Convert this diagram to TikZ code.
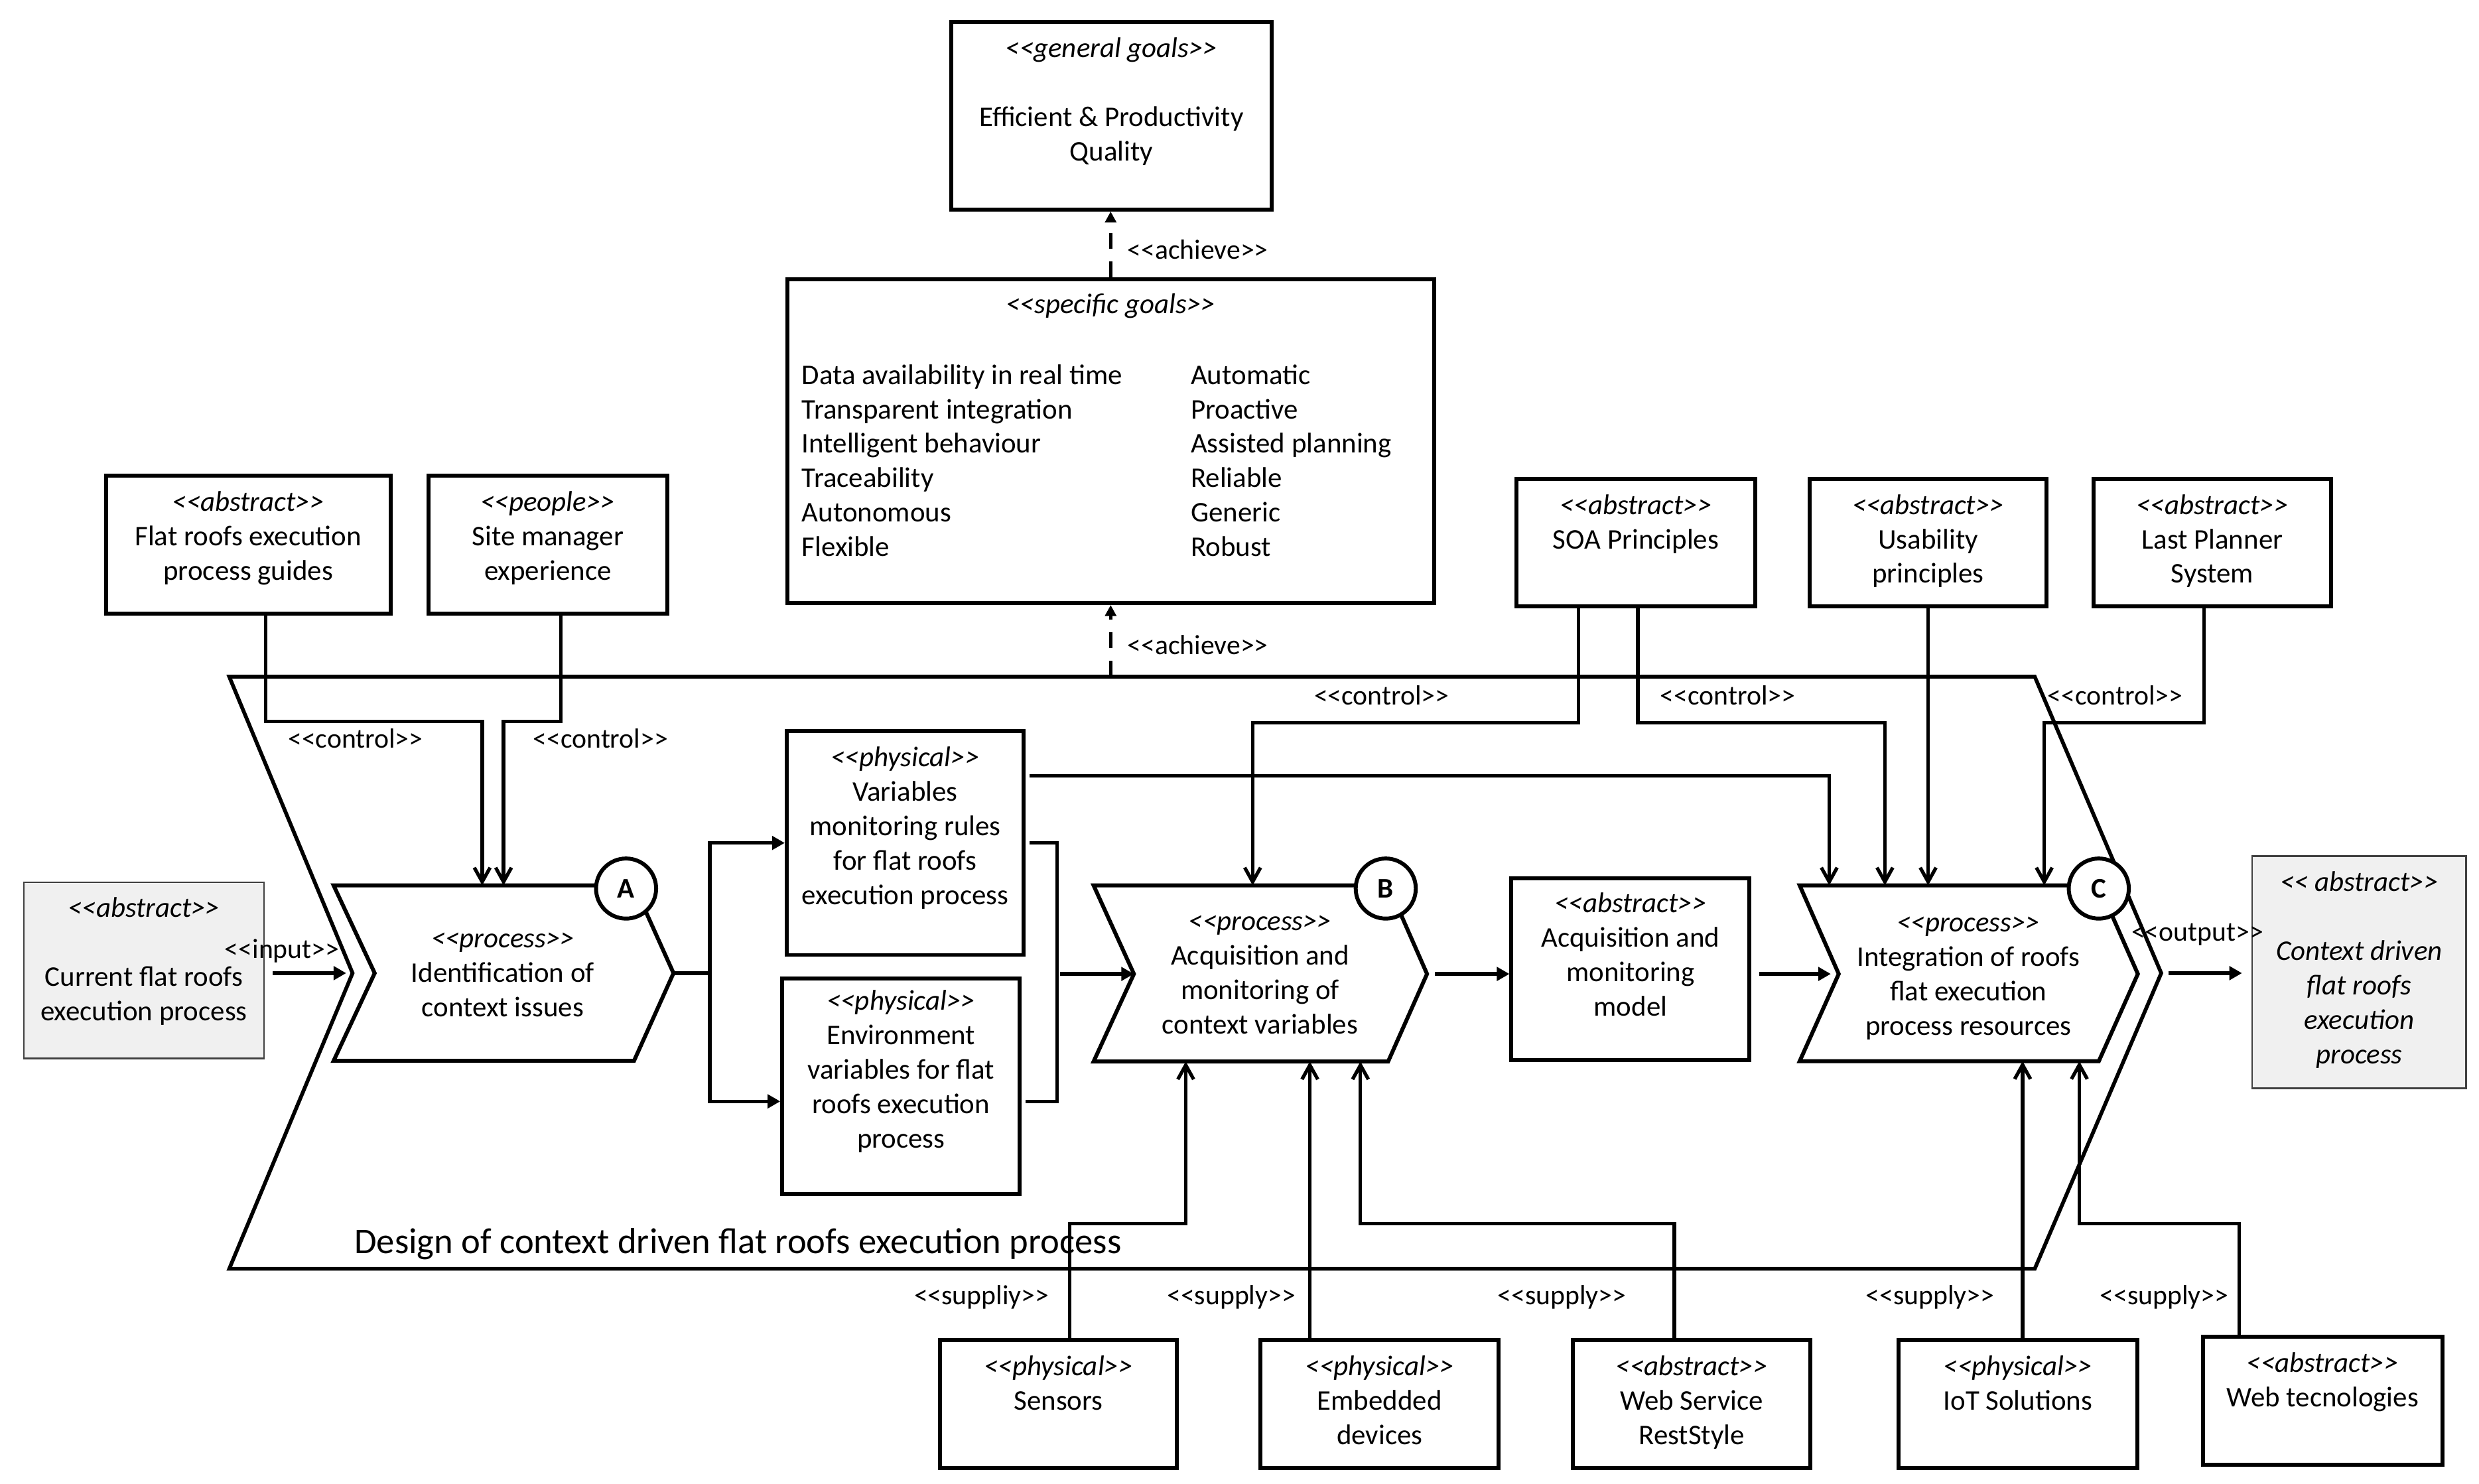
\documentclass[tikz,border=0pt]{standalone}
\usepackage{fontspec}
\setmainfont{Carlito}
\usetikzlibrary{arrows.meta,calc}
\newcommand\stx[1]{<{}<#1>{}>}
\newcommand\mkbox[6][box]{%
  \node[#1, minimum width={((#5)-(#3))*1pt}, minimum height={((#6)-(#4))*1pt}] (#2) at ({((#3)+(#5))/2},{((#4)+(#6))/2}) {};}
\begin{document}
\begin{tikzpicture}[x=1pt,y=-1pt,
  box/.style={draw, line width=2.5pt, inner sep=0pt},
  gbox/.style={draw=black!75, line width=1pt, fill=black!6, inner sep=0pt},
  txt/.style={inner sep=0pt, align=center, font=\fontsize{18}{21.8}\selectfont},
  lbl/.style={inner sep=0pt, anchor=base west, font=\fontsize{17.5}{21}\selectfont},
  ttl/.style={inner sep=0pt, anchor=base west, font=\fontsize{22.9}{27}\selectfont},
  ctrl/.style={line width=2.2pt, -{Straight Barb[length=9pt,width=10pt]}},
  flow/.style={line width=2.2pt, -{Triangle[length=8pt,width=8.5pt]}},
  plain/.style={line width=2.2pt},
  achv/.style={line width=2.2pt, dash pattern=on 10pt off 8pt, -{Triangle[length=7pt,width=7pt]}},
  chev/.style={line width=2.5pt, fill=white},
  circ/.style={circle, draw, line width=2.5pt, fill=white, minimum size=38pt, inner sep=0pt, font=\fontsize{18}{20}\selectfont\bfseries},
]
\useasboundingbox (0,0) rectangle (1568,938.6);

% ---------- big chevron (outer process) ----------
\coordinate (G-nw) at (145,428);
\coordinate (G-ne) at (1287,428);
\coordinate (G-tip) at (1367,615.5);
\coordinate (G-se) at (1287,802.5);
\coordinate (G-sw) at (145,802.5);
\coordinate (G-notch) at (223,615.5);
\draw[line width=2.4pt] (G-nw) -- (G-ne) -- (G-tip) -- (G-se) -- (G-sw) -- (G-notch) -- cycle;
\node[ttl] (title) at (224,793) {Design of context driven flat roofs execution process};

% ---------- process chevrons ----------
\coordinate (A-nw) at (211,560);
\coordinate (A-ne) at (401,560);
\coordinate (A-tip) at (426,615.5);
\coordinate (A-se) at (401,671);
\coordinate (A-sw) at (211,671);
\coordinate (A-notch) at (237,615.5);
\draw[chev] (A-nw) -- (A-ne) -- (A-tip) -- (A-se) -- (A-sw) -- (A-notch) -- cycle;
\node[txt] (A-text) at (318,617) {\strut{\itshape\stx{process}}\\Identification of\\context issues\strut};

\coordinate (B-nw) at (691.7,560);
\coordinate (B-ne) at (878,560);
\coordinate (B-tip) at (902.6,616);
\coordinate (B-se) at (878,671.4);
\coordinate (B-sw) at (691.7,671.4);
\coordinate (B-notch) at (717.2,616);
\draw[chev] (B-nw) -- (B-ne) -- (B-tip) -- (B-se) -- (B-sw) -- (B-notch) -- cycle;
\node[txt] (B-text) at (797,617) {\strut{\itshape\stx{process}}\\Acquisition and\\monitoring of\\context variables\strut};

\coordinate (C-nw) at (1138.3,560);
\coordinate (C-ne) at (1327.5,560);
\coordinate (C-tip) at (1352.2,616);
\coordinate (C-se) at (1327.5,671.2);
\coordinate (C-sw) at (1138.3,671.2);
\coordinate (C-notch) at (1163,616);
\draw[chev] (C-nw) -- (C-ne) -- (C-tip) -- (C-se) -- (C-sw) -- (C-notch) -- cycle;
\node[txt] (C-text) at (1245,617.5) {\strut{\itshape\stx{process}}\\Integration of roofs\\flat execution\\process resources\strut};

% entry points on chevrons
\coordinate (A-in1) at (305,560);
\coordinate (A-in2) at (318.5,560);
\coordinate (B-in1) at (792.3,560);
\coordinate (C-in1) at (1157,560);
\coordinate (C-in2) at (1192.2,560);
\coordinate (C-in4) at (1293,560);
\coordinate (B-s1) at (750,671.4);
\coordinate (B-s2) at (828.5,671.4);
\coordinate (B-s3) at (860.5,671.4);
\coordinate (C-s1) at (1279.3,671.2);
\coordinate (C-s2) at (1315.2,671.2);
\coordinate (bus) at (449,615.5);
\coordinate (brk) at (668.5,616);

% ---------- boxes ----------
\mkbox{gen}{601.5}{14}{804.5}{132.5}
\mkbox{spec}{498}{176.6}{907}{381.4}
\mkbox{flat}{67}{301}{247}{388}
\mkbox{site}{271}{301}{422}{388}
\mkbox{soa}{959}{303}{1110.4}{383.3}
\mkbox{usab}{1144.5}{303}{1294.6}{383.3}
\mkbox{lps}{1324.2}{303}{1474.4}{383.3}
\mkbox[gbox]{cur}{15}{558}{167}{669.5}
\mkbox{var}{497.6}{462.3}{647.5}{604}
\mkbox{env}{494.8}{618.8}{645}{755.4}
\mkbox{model}{956}{555.7}{1106.6}{670.6}
\mkbox[gbox]{out}{1424.6}{541.5}{1559.8}{688.4}
\mkbox{sens}{594.5}{847.7}{744.5}{928.7}
\mkbox{emb}{797.3}{847.7}{948}{928.7}
\mkbox{ws}{995}{847.7}{1145}{928.7}
\mkbox{iot}{1201}{847.7}{1351.7}{928.7}
\mkbox{wt}{1393.4}{845.6}{1544.7}{926.5}

% ---------- box texts ----------
\node[txt, anchor=north] (gen-t) at ($(gen.north)+(0,8)$) {\strut{\itshape\stx{general goals}}\\ \strut\\Efficient \& Productivity\\Quality};
\node[txt, anchor=north] (spec-t) at ($(spec.north)+(0,7.4)$) {\strut{\itshape\stx{specific goals}}};
\node[txt, align=left, anchor=north west] (spec-l) at (507,227.5) {\strut Data availability in real time\\Transparent integration\\Intelligent behaviour\\Traceability\\Autonomous\\Flexible};
\node[txt, align=left, anchor=north west] (spec-r) at (753,227.5) {\strut Automatic\\Proactive\\Assisted planning\\Reliable\\Generic\\Robust};
\node[txt, anchor=north] (flat-t) at ($(flat.north)+(0,8)$) {\strut{\itshape\stx{abstract}}\\Flat roofs execution\\process guides};
\node[txt, anchor=north] (site-t) at ($(site.north)+(0,8)$) {\strut{\itshape\stx{people}}\\Site manager\\experience};
\node[txt, anchor=north] (soa-t) at ($(soa.north)+(0,8)$) {\strut{\itshape\stx{abstract}}\\SOA Principles};
\node[txt, anchor=north] (usab-t) at ($(usab.north)+(0,8)$) {\strut{\itshape\stx{abstract}}\\Usability\\principles};
\node[txt, anchor=north] (lps-t) at ($(lps.north)+(0,8)$) {\strut{\itshape\stx{abstract}}\\Last Planner\\System};
\node[txt, anchor=north] (cur-t) at ($(cur.north)+(0,7)$) {\strut{\itshape\stx{abstract}}\\ \strut\\Current flat roofs\\execution process};
\node[txt, anchor=north] (var-t) at ($(var.north)+(0,8.5)$) {\strut{\itshape\stx{physical}}\\Variables\\monitoring rules\\for flat roofs\\execution process};
\node[txt, anchor=north] (env-t) at ($(env.north)+(0,6)$) {\strut{\itshape\stx{physical}}\\Environment\\variables for flat\\roofs execution\\process};
\node[txt, anchor=north] (model-t) at ($(model.north)+(0,7.2)$) {\strut{\itshape\stx{abstract}}\\Acquisition and\\monitoring\\model};
\node[txt, anchor=north, font=\fontsize{18}{21.8}\selectfont\itshape] (out-t) at ($(out.north)+(0,7.3)$) {\strut<{}< abstract>{}>\\ \strut\\Context driven\\flat roofs\\execution\\process};
\node[txt, anchor=north] (sens-t) at ($(sens.north)+(0,8)$) {\strut{\itshape\stx{physical}}\\Sensors};
\node[txt, anchor=north] (emb-t) at ($(emb.north)+(0,8)$) {\strut{\itshape\stx{physical}}\\Embedded\\devices};
\node[txt, anchor=north] (ws-t) at ($(ws.north)+(0,8)$) {\strut{\itshape\stx{abstract}}\\Web Service\\RestStyle};
\node[txt, anchor=north] (iot-t) at ($(iot.north)+(0,8)$) {\strut{\itshape\stx{physical}}\\IoT Solutions};
\node[txt, anchor=north] (wt-t) at ($(wt.north)+(0,8)$) {\strut{\itshape\stx{abstract}}\\Web tecnologies};

% ---------- achieve ----------
\draw[achv] (spec.north) -- (spec.north |- gen.south);
\draw[achv] (spec.south |- G-nw) -- (spec.south);
\node[lbl] (ach1) at (713,164) {\stx{achieve}};
\node[lbl] (ach2) at (713,414) {\stx{achieve}};

% ---------- controls ----------
\draw[ctrl] ([shift={(11,0)}]flat.south) -- ++(0,67) -| (A-in1);
\draw[ctrl] ([shift={(8.2,0)}]site.south) -- ++(0,67) -| (A-in2);
\draw[ctrl] ([shift={(-36.2,0)}]soa.south) -- ++(0,72.7) -| (B-in1);
\draw[ctrl] ([shift={(1.2,0)}]soa.south) -- ++(0,72.7) -| (C-in2);
\draw[ctrl] (usab.south) -- (usab.south |- C-nw);
\draw[ctrl] ([shift={(-5.1,0)}]lps.south) -- ++(0,72.7) -| (C-in4);
\draw[ctrl] ([shift={(2.5,-42.5)}]var.east) -| (C-in1);
\node[lbl] (c1) at (182,473) {\stx{control}};
\node[lbl] (c2) at (337,473) {\stx{control}};
\node[lbl] (c3) at (831,446) {\stx{control}};
\node[lbl] (c4) at (1050,446) {\stx{control}};
\node[lbl] (c5) at (1295,446) {\stx{control}};

% ---------- flows ----------
\draw[flow, shorten <=5pt, shorten >=4pt] (cur.east |- G-notch) -- (G-notch);
\node[lbl] (inp) at (142,606) {\stx{input}};
\draw[plain] (A-tip) -- (bus);
\draw[flow] (bus) |- (var.west);
\draw[flow] (bus) |- ([shift={(0,9.5)}]env.west);
\draw[plain] ([shift={(2.5,0)}]var.east) -| (brk) |- ([shift={(2.5,9.5)}]env.east);
\draw[flow, shorten <=2pt] (brk) -- (B-notch);
\draw[flow, shorten <=5pt] (B-tip) -- (B-tip -| model.west);
\draw[flow, shorten <=5pt, shorten >=5pt] (model.east |- C-notch) -- (C-notch);
\draw[flow, shorten <=4.5pt, shorten >=6pt] (G-tip) -- (G-tip -| out.west);
\node[lbl] (outp) at (1348,595) {\stx{output}};

% ---------- supplies ----------
\draw[ctrl] ([shift={(7,0)}]sens.north) -- ++(0,-72.5) -| (B-s1);
\draw[ctrl] (B-s2 |- emb.north) -- (B-s2);
\draw[ctrl] ([shift={(-11,0)}]ws.north) -- ++(0,-72.5) -| (B-s3);
\draw[ctrl] (C-s1 |- iot.north) -- (C-s1);
\draw[ctrl] ([shift={(-52.7,0)}]wt.north) -- ++(0,-70.4) -| (C-s2);
\node[lbl] (s1) at (578,825) {\stx{suppliy}};
\node[lbl] (s2) at (738,825) {\stx{supply}};
\node[lbl] (s3) at (947,825) {\stx{supply}};
\node[lbl] (s4) at (1180,825) {\stx{supply}};
\node[lbl] (s5) at (1328,825) {\stx{supply}};

% ---------- circles ----------
\node[circ] (cA) at (396,562) {A};
\node[circ] (cB) at (876.5,562) {B};
\node[circ] (cC) at (1327.5,562) {C};
\end{tikzpicture}
\end{document}
